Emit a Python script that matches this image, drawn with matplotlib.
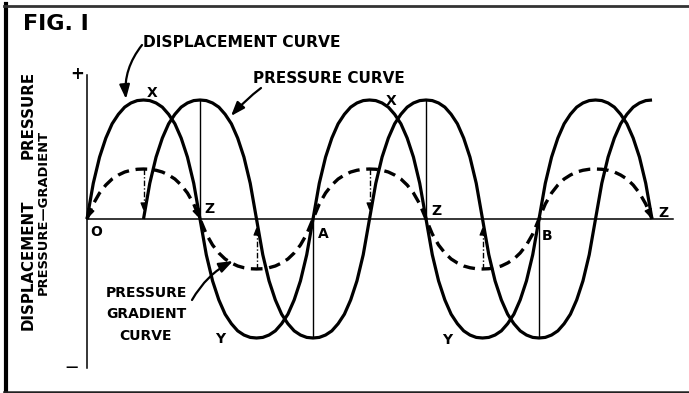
import numpy as np
import matplotlib.pyplot as plt
from matplotlib.transforms import Affine2D
from matplotlib.lines import Line2D

W, H = 689, 393

# one hand-drawn half wave (phase in degrees, fraction of peak)
half_phase = [0, 10, 20, 30, 40, 50, 60, 70, 80, 90,
              100, 110, 120, 130, 140, 150, 160, 170, 180]
half_shape = [0.0, 0.30, 0.52, 0.68, 0.80, 0.88, 0.94, 0.975, 0.995, 1.0,
              0.995, 0.975, 0.94, 0.88, 0.80, 0.68, 0.52, 0.30, 0.0]

# curves: start phase, end phase, peak height
disp_start, disp_end, disp_amp = 0, 900, 1.0
pres_start, pres_end, pres_amp = 90, 900, 1.0
grad_start, grad_end, grad_amp = 0, 900, 0.42

ref_phase = [180, 360, 540, 720]     # thin verticals at pressure peaks / troughs
drop_phase = [90, 270, 450, 630]     # dash-dot drops at gradient peaks / troughs
grad_arrow_phase = [0, 180, 900]     # arrow heads on the dashed curve
axis_end = 933

point_labels = ["X", "X", "Y", "Y", "Z", "Z", "Z", "A", "B", "O"]
grad_label = ["PRESSURE", "GRADIENT", "CURVE"]


def wave(start, end, amp):
    ph, val = [], []
    k = 0
    while start + k * 180 < end:
        for p, s in zip(half_phase, half_shape):
            if k > 0 and p == 0:
                continue
            x = start + k * 180 + p
            if x <= end:
                ph.append(x)
                val.append((-1) ** k * amp * s)
        k += 1
    return np.array(ph), np.array(val)


disp_x, disp_y = wave(disp_start, disp_end, disp_amp)
pres_x, pres_y = wave(pres_start, pres_end, pres_amp)
grad_x, grad_y = wave(grad_start, grad_end, grad_amp)

fig = plt.figure(figsize=(W / 100, H / 100), dpi=100)
fig.patch.set_facecolor("white")
pix = Affine2D().scale(1 / W, -1 / H).translate(0, 1) + fig.transFigure

# pixel calibration of the drawing: origin at (87, 219), 0.628 px/deg, 119 px per unit
x0, y0, kx, ky = 87, 219, 0.6278, 119
ax = fig.add_axes([0, 0, 1, 1])
ax.set_xlim(-x0 / kx, (W - x0) / kx)
ax.set_ylim((y0 - H) / ky, y0 / ky)
ax.set_facecolor("none")
ax.set_xticks([])
ax.set_yticks([])
for side in ["top", "right"]:
    ax.spines[side].set_visible(False)
ax.spines["left"].set_position(("data", 0))
ax.spines["bottom"].set_position(("data", 0))
ax.spines["left"].set_bounds(-1.25, 1.21)
ax.spines["bottom"].set_bounds(0, axis_end)
for side in ["left", "bottom"]:
    ax.spines[side].set_linewidth(1.1)

ax.plot(disp_x, disp_y, color="k", lw=2.3, solid_capstyle="butt")
ax.plot(pres_x, pres_y, color="k", lw=2.3, solid_capstyle="butt")
ax.plot(grad_x, grad_y, color="k", lw=2.4, dashes=(3.5, 2.0))

ax.vlines(ref_phase, 0, np.interp(ref_phase, pres_x, pres_y), color="k", lw=1.0)

# dash-dot drops from the gradient extremes toward the axis, with small heads
small_head = dict(arrowstyle="-|>,head_length=0.5,head_width=0.2", color="k", lw=0.8,
                  shrinkA=0, shrinkB=0, mutation_scale=9)
for ph in drop_phase:
    g = np.interp(ph, grad_x, grad_y)
    tip = 0.07 * np.sign(g)
    ax.plot([ph, ph], [g, tip], color="k", lw=1.0, linestyle=(0, (4, 1.5, 1, 1.5)))
    ax.annotate("", xy=(ph, tip), xytext=(ph, tip + 0.06 * np.sign(g)), arrowprops=small_head)

# heads on the dashed curve where it runs into the axis
for ph in grad_arrow_phase:
    i = int(np.argmin(np.abs(grad_x - ph)))
    j = i + 1 if i == 0 else i - 1
    ax.annotate("", xy=(grad_x[i], grad_y[i]),
                xytext=(grad_x[i] + (grad_x[j] - grad_x[i]) * 0.6, grad_y[i] + (grad_y[j] - grad_y[i]) * 0.6),
                arrowprops=dict(small_head, lw=1.2, mutation_scale=11))

bold = dict(family="DejaVu Sans", weight="bold", color="k")

# point letters (x centre, baseline) in pixels
label_pos = [(152, 97), (391, 105), (220, 343), (447, 344), (209, 213),
             (436, 215), (663, 217), (323, 238), (547, 240), (96, 236)]
for lab, (px, py) in zip(point_labels, label_pos):
    fig.text(px, py, lab, transform=pix, ha="center", va="baseline", fontsize=10, **bold)

fig.text(23, 30, "FIG. I", transform=pix, ha="left", va="baseline", fontsize=16, **bold)
fig.text(77, 74, "+", transform=pix, ha="center", va="center", fontsize=12, **bold)
fig.text(72, 367, "\u2014", transform=pix, ha="center", va="center", fontsize=9, **bold)

fig.text(33, 265, "DISPLACEMENT", transform=pix, rotation=90, rotation_mode="anchor",
         ha="center", va="baseline", fontsize=10.8, **bold)
fig.text(33, 115, "PRESSURE", transform=pix, rotation=90, rotation_mode="anchor",
         ha="center", va="baseline", fontsize=10.8, **bold)
fig.text(47, 212, "PRESSURE\u2014GRADIENT", transform=pix, rotation=90, rotation_mode="anchor",
         ha="center", va="baseline", fontsize=9.4, **bold)

for line, py in zip(grad_label, [297, 318, 340]):
    fig.text(146, py, line, transform=pix, ha="center", va="baseline", fontsize=10, **bold)

arrow = dict(arrowstyle="-|>,head_length=0.6,head_width=0.22", color="k", lw=1.6,
             shrinkA=0, shrinkB=0, mutation_scale=14)
fig.text(143, 47, "DISPLACEMENT CURVE", transform=pix, ha="left", va="baseline",
         fontsize=11.2, **bold)
ax.annotate("", xy=(126, 99), xycoords=pix, xytext=(142, 45), textcoords=pix,
            arrowprops=dict(arrow, connectionstyle="arc3,rad=0.2"))
fig.text(253, 83, "PRESSURE CURVE", transform=pix, ha="left", va="baseline",
         fontsize=11, **bold)
ax.annotate("", xy=(231, 116), xycoords=pix, xytext=(261, 88), textcoords=pix,
            arrowprops=dict(arrow, connectionstyle="arc3,rad=0.05"))
ax.annotate("", xy=(233, 261), xycoords=pix, xytext=(192, 300), textcoords=pix,
            arrowprops=dict(arrow, connectionstyle="arc3,rad=-0.15"))

# scan frame: heavy left edge, thin top and bottom rules
fig.add_artist(Line2D([6, 6], [4, 393], transform=pix, color="k", lw=3.0))
fig.add_artist(Line2D([4, W], [5.5, 5.5], transform=pix, color="#333333", lw=2.0))
fig.add_artist(Line2D([4, W], [391.5, 391.5], transform=pix, color="#222222", lw=1.8))

fig.savefig("out.png", dpi=100, facecolor="white")
